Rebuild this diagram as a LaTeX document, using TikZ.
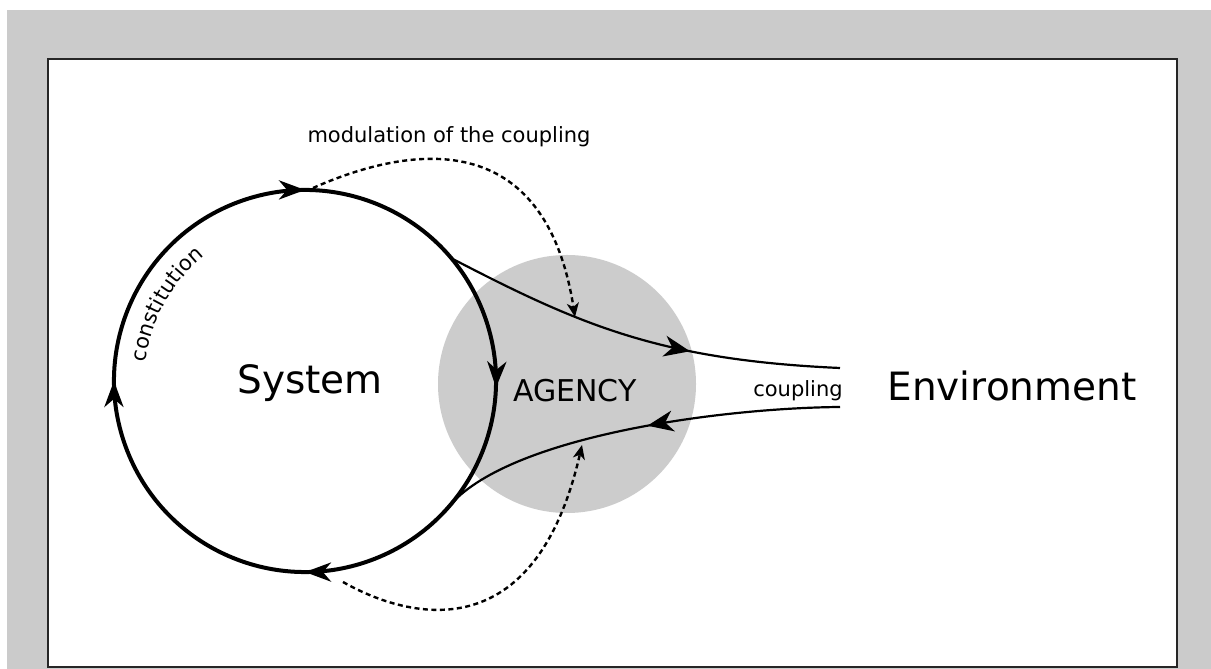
\documentclass[tikz,border=0pt]{standalone}
\usepackage{fontspec}
\setmainfont{DejaVu Sans}
\usetikzlibrary{arrows.meta, calc, decorations.markings, decorations.text}

\definecolor{bggray}{HTML}{CBCBCB}
\definecolor{agencygray}{HTML}{CCCCCC}

\tikzset{
  sysloop/.style={line width=4pt},
  flow/.style={line width=2.2pt},
  dashflow/.style={line width=2.4pt, dash pattern=on 5pt off 3.5pt,
    -{Stealth[length=14pt,width=12pt,inset=4pt]}},
  bigtext/.style={font=\fontsize{39}{47}\selectfont},
  midtext/.style={font=\fontsize{30}{36}\selectfont},
  smalltext/.style={font=\fontsize{21}{25}\selectfont}
}

\begin{document}
\begin{tikzpicture}[x=1pt, y=1pt]
  \useasboundingbox (0,0) rectangle (1211,669);
  \fill[bggray] (7,0) rectangle (1211,659);
  \draw[fill=white, draw=black!85, line width=2pt] (48,2) rectangle (1177,610);

  % agency disc
  \node[
  circle,
  fill=agencygray,
  minimum size=258pt,
  inner sep=0pt
  ] (agdisc) at (567,285) {};

  % system loop, clockwise from 200 degrees
  \coordinate (sysc) at (305,288);
  \draw[
  sysloop,
  postaction={decorate},
  decoration={markings,
    mark=at position 0.0556 with {\arrow{Stealth[length=26pt,width=19pt,inset=8pt]}},
    mark=at position 0.3056 with {\arrow{Stealth[length=26pt,width=19pt,inset=8pt]}},
    mark=at position 0.5611 with {\arrow{Stealth[length=26pt,width=19pt,inset=8pt]}},
    mark=at position 0.8056 with {\arrow{Stealth[length=26pt,width=19pt,inset=8pt]}}}
  ] ($(sysc)+(200:191)$) arc[start angle=200, end angle=-160, radius=191];
  \path[
  decorate,
  decoration={text along path, text align=center,
    text={|\fontsize{21}{25}\selectfont|constitution}}
  ] ($(sysc)+(176:160)$) arc[start angle=176, end angle=126, radius=160];

  % labels
  \node[bigtext, anchor=base] (sys) at (310,275) {System};
  \node[midtext, anchor=base] (agency) at (575,267) {AGENCY};
  \node[smalltext, anchor=base] (coup) at (798,272) {coupling};
  \node[bigtext, anchor=base] (env) at (1012,268) {Environment};
  \node[smalltext, anchor=base] (mod) at (449,526) {modulation of the coupling};

  % coupling
  \coordinate (upj) at ($(sysc)+(40:191)$);
  \coordinate (lowj) at ($(sysc)+(-40:191)$);
  \coordinate (cupr) at (840,301);
  \coordinate (clowr) at (840,262);
  \draw[
  flow,
  postaction={decorate},
  decoration={markings, mark=at position 0.63 with
    {\arrow{Stealth[length=26pt,width=21pt,inset=8pt]}}}
  ] (upj) .. controls (580,344) and (660,309) .. (cupr);
  \draw[
  flow,
  postaction={decorate},
  decoration={markings, mark=at position 0.475 with
    {\arrow{Stealth[length=26pt,width=21pt,inset=8pt]}}}
  ] (clowr) .. controls (720,261) and (513,233) .. (lowj);

  % modulation
  \coordinate (modtop) at (313,481);
  \coordinate (modbot) at (343,87);
  \draw[dashflow] (modtop) .. controls (410,524) and (545,544) .. (575,352);
  \draw[dashflow] (modbot) .. controls (410,49) and (535,19) .. (582,224);
\end{tikzpicture}
\end{document}
